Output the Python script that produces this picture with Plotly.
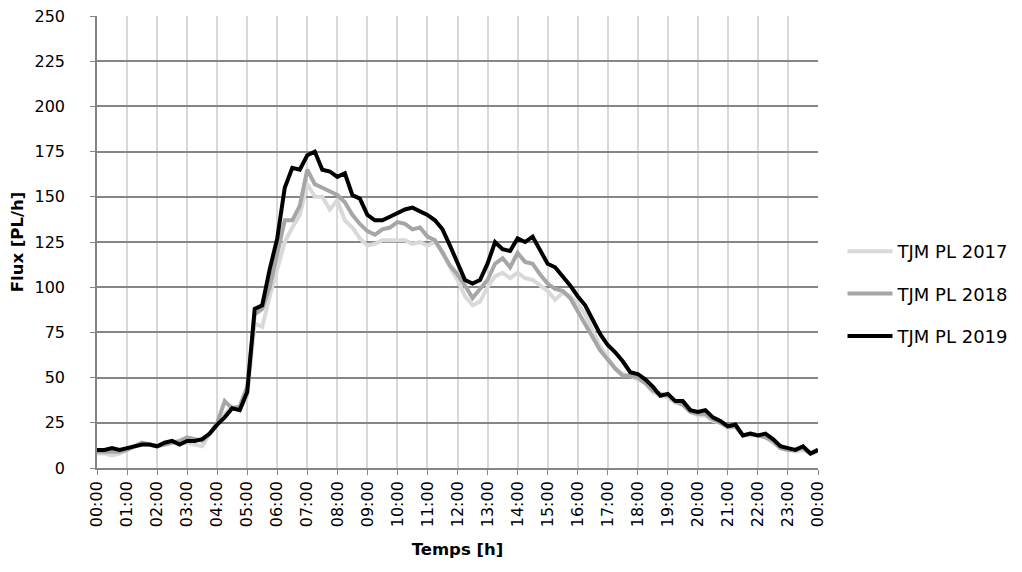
import pandas as pd
import plotly.graph_objects as go

# 15 min steps over one day, 00:00 -> 00:00
times = pd.date_range("2019-01-01 00:00", "2019-01-02 00:00", freq="15min")

tjm_2017 = [8, 8, 7, 8, 10, 12, 13, 13, 12, 13, 14, 14, 14, 13, 12, 19,
            24, 30, 34, 32, 40, 80, 78, 95, 110, 125, 133, 140, 157, 150, 150, 143,
            148, 137, 133, 127, 123, 124, 126, 126, 126, 126, 124, 125, 123, 125, 120, 111,
            104, 95, 90, 92, 100, 106, 108, 105, 108, 105, 104, 101, 98, 93, 97, 95,
            91, 85, 76, 67, 61, 55, 52, 51, 49, 47, 42, 40, 39, 36, 35, 31,
            29, 29, 26, 25, 22, 23, 18, 18, 18, 17, 14, 11, 10, 9, 10, 8, 9]
tjm_2018 = [9, 9, 9, 9, 10, 12, 14, 13, 12, 13, 14, 15, 17, 16, 15, 19,
            25, 37, 33, 34, 45, 85, 88, 100, 118, 137, 137, 145, 165, 157, 155, 153,
            151, 147, 140, 135, 131, 129, 132, 133, 136, 135, 132, 133, 128, 126, 119, 112,
            107, 101, 94, 99, 104, 113, 116, 111, 119, 114, 113, 107, 102, 99, 98, 94,
            87, 80, 72, 65, 60, 55, 51, 51, 50, 47, 43, 41, 40, 37, 35, 31,
            30, 30, 27, 25, 23, 23, 18, 19, 18, 17, 15, 11, 10, 10, 11, 8, 10]
tjm_2019 = [10, 10, 11, 10, 11, 12, 13, 13, 12, 14, 15, 13, 15, 15, 16, 19,
            24, 28, 33, 32, 42, 88, 90, 110, 127, 155, 166, 165, 173, 175, 165, 164,
            161, 163, 151, 149, 140, 137, 137, 139, 141, 143, 144, 142, 140, 137, 132, 123,
            113, 104, 102, 104, 113, 125, 121, 120, 127, 125, 128, 120, 113, 111, 106, 101,
            95, 90, 82, 74, 68, 64, 59, 53, 52, 49, 45, 40, 41, 37, 37, 32,
            31, 32, 28, 26, 23, 24, 18, 19, 18, 19, 16, 12, 11, 10, 12, 8, 10]

names = ["TJM PL 2017", "TJM PL 2018", "TJM PL 2019"]
colors = ["#d9d9d9", "#a6a6a6", "#000000"]

fnt = "DejaVu Sans"

fig = go.Figure()
for name, vals, col in zip(names, [tjm_2017, tjm_2018, tjm_2019], colors):
    fig.add_trace(go.Scatter(x=times, y=vals, name=name, mode="lines",
                             legendgroup=name,
                             line=dict(color=col, width=4)))

# page body has an 8px margin, so the figure is drawn 8px smaller
fig.update_layout(
    width=1014, height=564,
    margin=dict(l=89, r=202, t=8, b=104),
    plot_bgcolor="white", paper_bgcolor="white",
    font=dict(family=fnt, size=16, color="#000000"),
    legend=dict(x=1.034, y=0.385, xanchor="left", yanchor="middle",
                font=dict(size=18), tracegroupgap=16, itemwidth=45,
                bgcolor="rgba(0,0,0,0)"),
    showlegend=True,
)

fig.update_xaxes(
    type="date",
    range=[times[0], times[-1]],
    dtick=3600000, tick0=times[0], tickformat="%H:%M",
    tickangle=-90,
    showgrid=True, gridcolor="#d9d9d9", gridwidth=1.5,
    showline=True, linecolor="#868686", linewidth=1.5,
    ticks="outside", ticklen=5, tickcolor="#868686",
    tickfont=dict(size=16),
    automargin=False,
    title=dict(text="<b>Temps [h]</b>", font=dict(size=16.5), standoff=17),
)
fig.update_yaxes(
    range=[0, 250], dtick=25,
    showgrid=True, gridcolor="#868686", gridwidth=1.5,
    showline=True, linecolor="#868686", linewidth=1.5,
    ticks="outside", ticklen=5, tickcolor="#868686",
    ticklabelstandoff=22, ticklabeloverflow="allow",
    tickfont=dict(size=16),
    zeroline=False,
    automargin=False,
    title=dict(text="<b>Flux [PL/h]</b>", font=dict(size=16.5), standoff=8),
)

fig.write_html("out.html")
